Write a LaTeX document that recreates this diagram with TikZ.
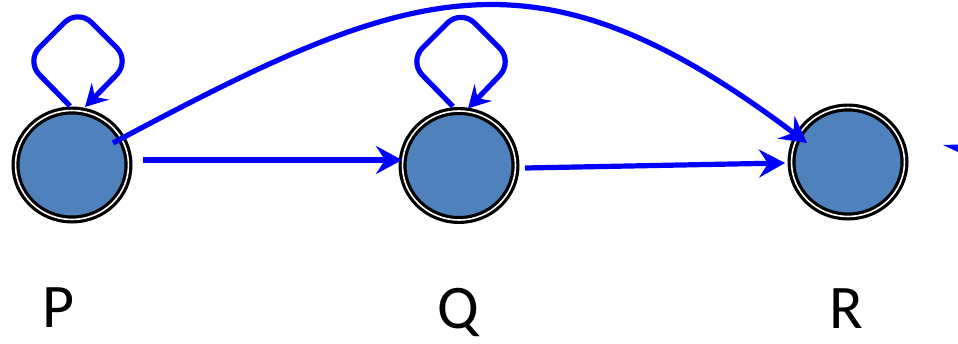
\documentclass[tikz,border=0pt]{standalone}
\usepackage{fontspec}
\setmainfont{Carlito}
\usetikzlibrary{arrows.meta,calc,shapes.geometric}
\definecolor{statefill}{RGB}{79,129,189}
\tikzset{
  state/.style={ellipse, inner sep=0pt, minimum width=113pt, minimum height=109pt,
    draw=black, line width=3.2pt, double=white, double distance=1.6pt,
    fill=statefill, outer sep=4pt},
  edge/.style={draw=blue, line width=5.2pt, -{Stealth[length=26pt,width=28pt,inset=9pt]}},
  loopedge/.style={draw=blue, line width=5.2pt, rounded corners=19pt,
    -{Stealth[length=22pt,width=24pt,inset=8pt]}},
  lab/.style={anchor=base, inner sep=0pt, font=\fontsize{62}{62}\selectfont}
}
\begin{document}
\begin{tikzpicture}[x=1pt,y=-1pt]
\useasboundingbox (0,0) rectangle (958,344);
\node[state] (P) at (72,165) {};
\node[state] (Q) at (459,165.5) {};
\node[state] (R) at (848,162) {};
\node[lab] (lP) at (59,328) {P};
\node[lab] (lQ) at (458,329) {Q};
\node[lab] (lR) at (846,329) {R};
% self loops
\draw[loopedge] ($(P.center)+(-2,-59)$) -- ++(-44,-45) -- ++(52,-52) -- ++(52,52) -- ($(P.center)+(13,-58)$);
\draw[loopedge] ($(Q.center)+(-6,-59)$) -- ++(-44,-45) -- ++(52,-52) -- ++(52,52) -- ($(Q.center)+(9,-57)$);
% straight edges
\draw[edge] ($(P.center)+(71,-5)$) -- ($(Q.center)+(-57,-5.5)$);
\draw[edge] ($(Q.center)+(66,2.5)$) -- ($(R.center)+(-63,1)$);
% long arc
\draw[edge] ($(P.center)+(41,-22)$) .. controls (411,-16) and (535,-62) .. ($(R.center)+(-41,-19)$);
% fragment of an arrow at the right edge
\coordinate (frag) at (943,145);
\fill[blue] (frag) -- (958,144.5) -- (958,152) -- cycle;
\end{tikzpicture}
\end{document}
